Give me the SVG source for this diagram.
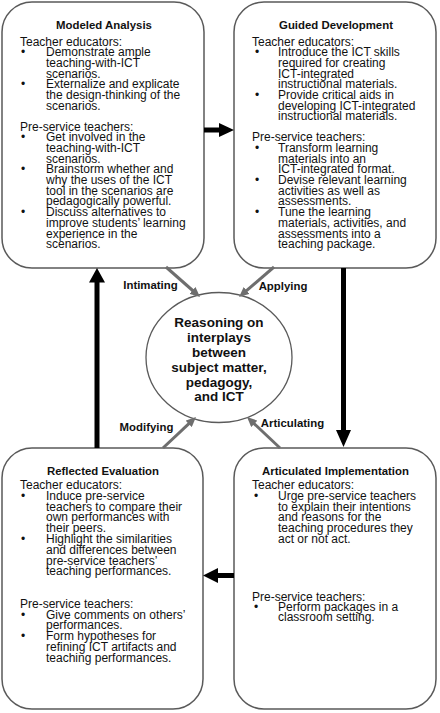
<svg xmlns="http://www.w3.org/2000/svg" width="440" height="713" viewBox="0 0 440 713">
<style>
.box{fill:#fff;stroke:#5a5a5a;stroke-width:1.5}
.t{font-family:"Liberation Sans",Arial,sans-serif;font-size:12px;fill:#111}
.h{font-family:"Liberation Sans",Arial,sans-serif;font-size:11.4px;font-weight:bold;fill:#111;text-anchor:middle}
.c{font-family:"Liberation Sans",Arial,sans-serif;font-size:13.5px;font-weight:bold;fill:#111;text-anchor:middle}
.g{stroke:#6e6e6e;stroke-width:3;fill:none;marker-end:url(#ah)}
.k{fill:#000}
</style>
<defs>
<marker id="ah" viewBox="0 0 10 9" refX="4" refY="4.5" markerWidth="10" markerHeight="9" markerUnits="userSpaceOnUse" orient="auto">
<path d="M0,0 L10,4.5 L0,9 Z" fill="#6e6e6e"/>
</marker>
</defs>
<rect width="440" height="713" fill="#fff"/>

<g id="modeled-analysis">
<rect class="box" x="2" y="2" width="202" height="266" rx="30"/>
<text class="h" x="104" y="29">Modeled Analysis</text>
<text class="t"><tspan x="20" y="45.7">Teacher educators:</tspan><tspan x="21" y="56.4">•</tspan><tspan x="46" y="56.4">Demonstrate ample</tspan><tspan x="46" y="67">teaching-with-ICT</tspan><tspan x="46" y="77.7">scenarios.</tspan><tspan x="21" y="88.3">•</tspan><tspan x="46" y="88.3">Externalize and explicate</tspan><tspan x="46" y="99">the design-thinking of the</tspan><tspan x="46" y="109.6">scenarios.</tspan></text>
<text class="t"><tspan x="20" y="130.5">Pre-service teachers:</tspan><tspan x="21" y="141.2">•</tspan><tspan x="46" y="141.2">Get involved in the</tspan><tspan x="46" y="151.9">teaching-with-ICT</tspan><tspan x="46" y="162.6">scenarios.</tspan><tspan x="21" y="173.3">•</tspan><tspan x="46" y="173.3">Brainstorm whether and</tspan><tspan x="46" y="184">why the uses of the ICT</tspan><tspan x="46" y="194.7">tool in the scenarios are</tspan><tspan x="46" y="205.4">pedagogically powerful.</tspan><tspan x="21" y="216.1">•</tspan><tspan x="46" y="216.1">Discuss alternatives to</tspan><tspan x="46" y="226.8">improve students’ learning</tspan><tspan x="46" y="237.5">experience in the</tspan><tspan x="46" y="248.2">scenarios.</tspan></text>
</g>

<g id="guided-development">
<rect class="box" x="234" y="2" width="202" height="266" rx="30"/>
<text class="h" x="336" y="29">Guided Development</text>
<text class="t"><tspan x="252" y="45.7">Teacher educators:</tspan><tspan x="255" y="56.4">•</tspan><tspan x="278" y="56.4">Introduce the ICT skills</tspan><tspan x="278" y="67">required for creating</tspan><tspan x="278" y="77.7">ICT-integrated</tspan><tspan x="278" y="88.3">instructional materials.</tspan><tspan x="255" y="99">•</tspan><tspan x="278" y="99">Provide critical aids in</tspan><tspan x="278" y="109.6">developing ICT-integrated</tspan><tspan x="278" y="120.3">instructional materials.</tspan></text>
<text class="t"><tspan x="252" y="141.2">Pre-service teachers:</tspan><tspan x="255" y="151.9">•</tspan><tspan x="278" y="151.9">Transform learning</tspan><tspan x="278" y="162.6">materials into an</tspan><tspan x="278" y="173.3">ICT-integrated format.</tspan><tspan x="255" y="184">•</tspan><tspan x="278" y="184">Devise relevant learning</tspan><tspan x="278" y="194.7">activities as well as</tspan><tspan x="278" y="205.4">assessments.</tspan><tspan x="255" y="216.1">•</tspan><tspan x="278" y="216.1">Tune the learning</tspan><tspan x="278" y="226.8">materials, activities, and</tspan><tspan x="278" y="237.5">assessments into a</tspan><tspan x="278" y="248.2">teaching package.</tspan></text>
</g>

<g id="reflected-evaluation">
<rect class="box" x="2" y="448" width="201" height="261" rx="30"/>
<text class="h" x="103" y="475">Reflected Evaluation</text>
<text class="t"><tspan x="20" y="489">Teacher educators:</tspan><tspan x="21" y="499.8">•</tspan><tspan x="46" y="499.8">Induce pre-service</tspan><tspan x="46" y="510.6">teachers to compare their</tspan><tspan x="46" y="521.4">own performances with</tspan><tspan x="46" y="532.2">their peers.</tspan><tspan x="21" y="543">•</tspan><tspan x="46" y="543">Highlight the similarities</tspan><tspan x="46" y="553.8">and differences between</tspan><tspan x="46" y="564.6">pre-service teachers’</tspan><tspan x="46" y="575.4">teaching performances.</tspan></text>
<text class="t"><tspan x="20" y="607.8">Pre-service teachers:</tspan><tspan x="21" y="618.6">•</tspan><tspan x="46" y="618.6">Give comments on others’</tspan><tspan x="46" y="629.4">performances.</tspan><tspan x="21" y="640.2">•</tspan><tspan x="46" y="640.2">Form hypotheses for</tspan><tspan x="46" y="651">refining ICT artifacts and</tspan><tspan x="46" y="661.8">teaching performances.</tspan></text>
</g>

<g id="articulated-implementation">
<rect class="box" x="234" y="448" width="202" height="261" rx="30"/>
<text class="h" x="335.5" y="475">Articulated Implementation</text>
<text class="t"><tspan x="252" y="489">Teacher educators:</tspan><tspan x="254" y="499.8">•</tspan><tspan x="278" y="499.8">Urge pre-service teachers</tspan><tspan x="278" y="510.6">to explain their intentions</tspan><tspan x="278" y="521.4">and reasons for the</tspan><tspan x="278" y="532.2">teaching procedures they</tspan><tspan x="278" y="543">act or not act.</tspan></text>
<text class="t"><tspan x="252" y="600.7">Pre-service teachers:</tspan><tspan x="254" y="611">•</tspan><tspan x="278" y="611">Perform packages in a</tspan><tspan x="278" y="621.3">classroom setting.</tspan></text>
</g>

<g id="reasoning">
<ellipse cx="219" cy="357.5" rx="73" ry="65" fill="#fff" stroke="#5a5a5a" stroke-width="1.3"/>
<text class="c"><tspan x="219" y="327">Reasoning on</tspan><tspan x="219" y="342">interplays</tspan><tspan x="219" y="357">between</tspan><tspan x="219" y="372">subject matter,</tspan><tspan x="219" y="387">pedagogy,</tspan><tspan x="219" y="401">and ICT</tspan></text>
</g>

<g id="connectors">
<path class="k" d="M204,127.5 H219 V123 L234,130 L219,137 V132.5 H204 Z"/>
<path class="k" d="M341,268 H346 V430 H351 L343.5,447 L336,430 H341 Z"/>
<path class="k" d="M234,573 H218 V568 L203,575.5 L218,583 V578 H234 Z"/>
<path class="k" d="M94.5,448 V282.5 H89 L97,268 L105,282.5 H99.5 V448 Z"/>
<line class="g" x1="166" y1="267" x2="195.5" y2="293"/>
<line class="g" x1="274" y1="267" x2="243.6" y2="293.1"/>
<line class="g" x1="163" y1="448" x2="191.6" y2="421.1"/>
<line class="g" x1="280" y1="448" x2="251.4" y2="421.1"/>
<text class="h" x="150.5" y="289">Intimating</text>
<text class="h" x="283" y="290">Applying</text>
<text class="h" x="146.5" y="431">Modifying</text>
<text class="h" x="292.5" y="427">Articulating</text>
</g>
</svg>
